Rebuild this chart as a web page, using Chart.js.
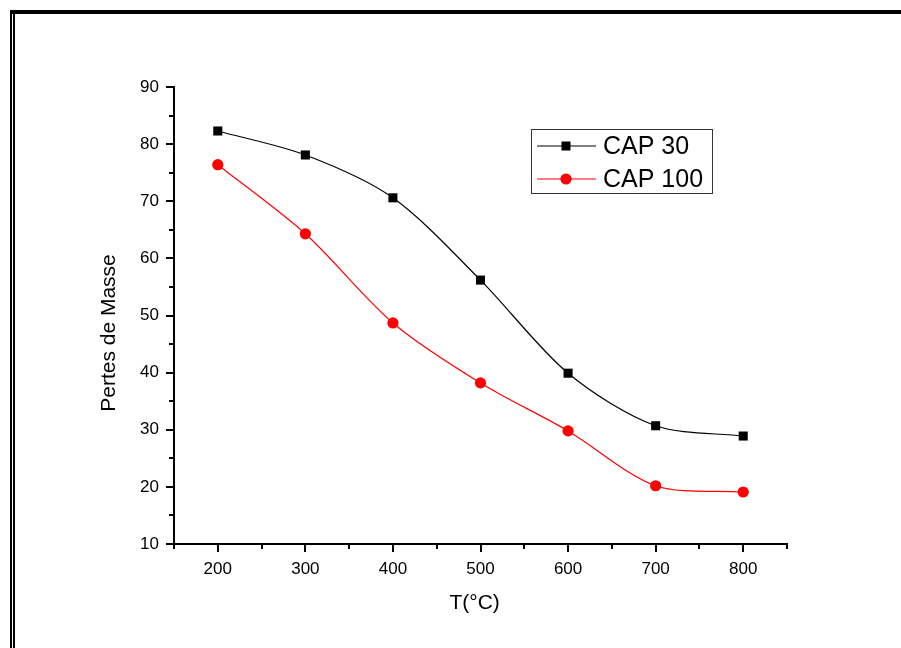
<!DOCTYPE html>
<html>
<head>
<meta charset="utf-8">
<script src="https://cdn.jsdelivr.net/npm/chart.js@4.4.0/dist/chart.umd.min.js"></script>
<style>
    html, body { margin: 0; padding: 0; background: #fff; }
    #wrap { width: 901px; height: 648px; position: relative; }
</style>
</head>
<body>
<div id="wrap"><canvas id="massChart" width="901" height="648"></canvas></div>
<script>
// Données
const temperatures = [200, 300, 400, 500, 600, 700, 800];
const cap30 = [82.3, 78.1, 70.6, 56.2, 39.9, 30.7, 28.9];
const cap100 = [76.4, 64.3, 48.7, 38.2, 29.8, 20.2, 19.1];
const seriesLabels = ['CAP 30', 'CAP 100'];
const xTicksMajor = 100;
const yTicksMajor = 10;

const FONT = "'Liberation Sans', Arial, sans-serif";

// cadre noir autour de la figure
const framePlugin = {
    id: 'frame',
    afterDraw(chart) {
        const ctx = chart.ctx;
        ctx.save();
        ctx.fillStyle = '#000';
        ctx.fillRect(10, 10, 891, 4);
        ctx.fillRect(10, 10, 2, 638);
        ctx.fillRect(13, 14, 2, 634);
        ctx.restore();
    }
};

// graduations majeures / mineures vers l'extérieur
const ticksPlugin = {
    id: 'outerTicks',
    beforeDatasetsDraw(chart) {
        const ctx = chart.ctx;
        const xs = chart.scales.x, ys = chart.scales.y;
        ctx.save();
        ctx.strokeStyle = '#000';
        ctx.lineWidth = 2;
        ctx.beginPath();
        xs.ticks.forEach(t => {
            const px = Math.round(xs.getPixelForValue(t.value));
            const len = t.value % xTicksMajor === 0 ? 8 : 5;
            ctx.moveTo(px, xs.top);
            ctx.lineTo(px, xs.top + len);
        });
        ys.ticks.forEach(t => {
            const py = Math.round(ys.getPixelForValue(t.value));
            const len = t.value % yTicksMajor === 0 ? 8 : 5;
            ctx.moveTo(ys.right, py);
            ctx.lineTo(ys.right - len, py);
        });
        ctx.stroke();
        ctx.restore();
    }
};

// légende encadrée avec trait + symbole
const boxLegendPlugin = {
    id: 'boxLegend',
    afterDatasetsDraw(chart) {
        const ctx = chart.ctx;
        ctx.save();
        ctx.fillStyle = '#fff';
        ctx.fillRect(531, 129, 182, 65);
        ctx.strokeStyle = '#333';
        ctx.lineWidth = 1;
        ctx.strokeRect(531.5, 129.5, 181, 64);
        chart.data.datasets.forEach((ds, i) => {
            const y = 146 + i * 33;
            ctx.strokeStyle = ds.borderColor;
            ctx.lineWidth = 1.2;
            ctx.beginPath();
            ctx.moveTo(537, y);
            ctx.lineTo(596, y);
            ctx.stroke();
            ctx.fillStyle = ds.pointBackgroundColor;
            if (ds.pointStyle === 'rect') {
                ctx.fillRect(566 - 4.5, y - 4.5, 9, 9);
            } else {
                ctx.beginPath();
                ctx.arc(566, y, ds.pointRadius, 0, Math.PI * 2);
                ctx.fill();
            }
            ctx.fillStyle = '#000';
            ctx.font = '25px ' + FONT;
            ctx.textBaseline = 'middle';
            ctx.textAlign = 'left';
            ctx.fillText(ds.label, 603, y + 1);
        });
        ctx.restore();
    }
};

const ctx = document.getElementById('massChart').getContext('2d');
const massChart = new Chart(ctx, {
    type: 'line',
    data: {
        datasets: [{
            label: seriesLabels[0],
            data: temperatures.map((t, i) => ({ x: t, y: cap30[i] })),
            borderColor: '#000',
            borderWidth: 1.2,
            pointStyle: 'rect',
            pointRadius: 6.4,
            pointBorderWidth: 0,
            pointBackgroundColor: '#000',
            tension: 0.3,
            fill: false
        }, {
            label: seriesLabels[1],
            data: temperatures.map((t, i) => ({ x: t, y: cap100[i] })),
            borderColor: '#ff0000',
            borderWidth: 1.2,
            pointStyle: 'circle',
            pointRadius: 5.6,
            pointBorderWidth: 0,
            pointBackgroundColor: '#ff0000',
            tension: 0.3,
            fill: false
        }]
    },
    options: {
        responsive: false,
        animation: false,
        devicePixelRatio: 1,
        layout: {
            padding: { left: 93, top: 87, right: 114, bottom: 28 }
        },
        plugins: {
            legend: { display: false },
            tooltip: { enabled: false }
        },
        scales: {
            x: {
                type: 'linear',
                min: 150,
                max: 850,
                afterFit: s => { s.height = 76; },
                border: { display: true, color: '#000', width: 2 },
                grid: { drawOnChartArea: false, drawTicks: true, tickLength: 8, color: 'rgba(0,0,0,0)' },
                ticks: {
                    stepSize: 50,
                    autoSkip: false,
                    maxRotation: 0,
                    padding: 7,
                    color: '#000',
                    font: { family: FONT, size: 17 },
                    callback: v => (v % xTicksMajor === 0 ? v : '')
                },
                title: {
                    display: true,
                    text: 'T(°C)  ',
                    color: '#000',
                    font: { family: FONT, size: 21 },
                    padding: { top: 4, bottom: 4 }
                }
            },
            y: {
                min: 10,
                max: 90,
                afterFit: s => { s.width = 81; },
                border: { display: true, color: '#000', width: 2 },
                grid: { drawOnChartArea: false, drawTicks: true, tickLength: 8, color: 'rgba(0,0,0,0)' },
                ticks: {
                    stepSize: 5,
                    autoSkip: false,
                    padding: 7,
                    color: '#000',
                    font: { family: FONT, size: 17 },
                    callback: v => (v % yTicksMajor === 0 ? v : '')
                },
                title: {
                    display: true,
                    text: 'Pertes de Masse      ',
                    color: '#000',
                    font: { family: FONT, size: 21 },
                    padding: { top: 4, bottom: 4 }
                }
            }
        }
    },
    plugins: [ticksPlugin, boxLegendPlugin, framePlugin]
});
</script>
</body>
</html>
